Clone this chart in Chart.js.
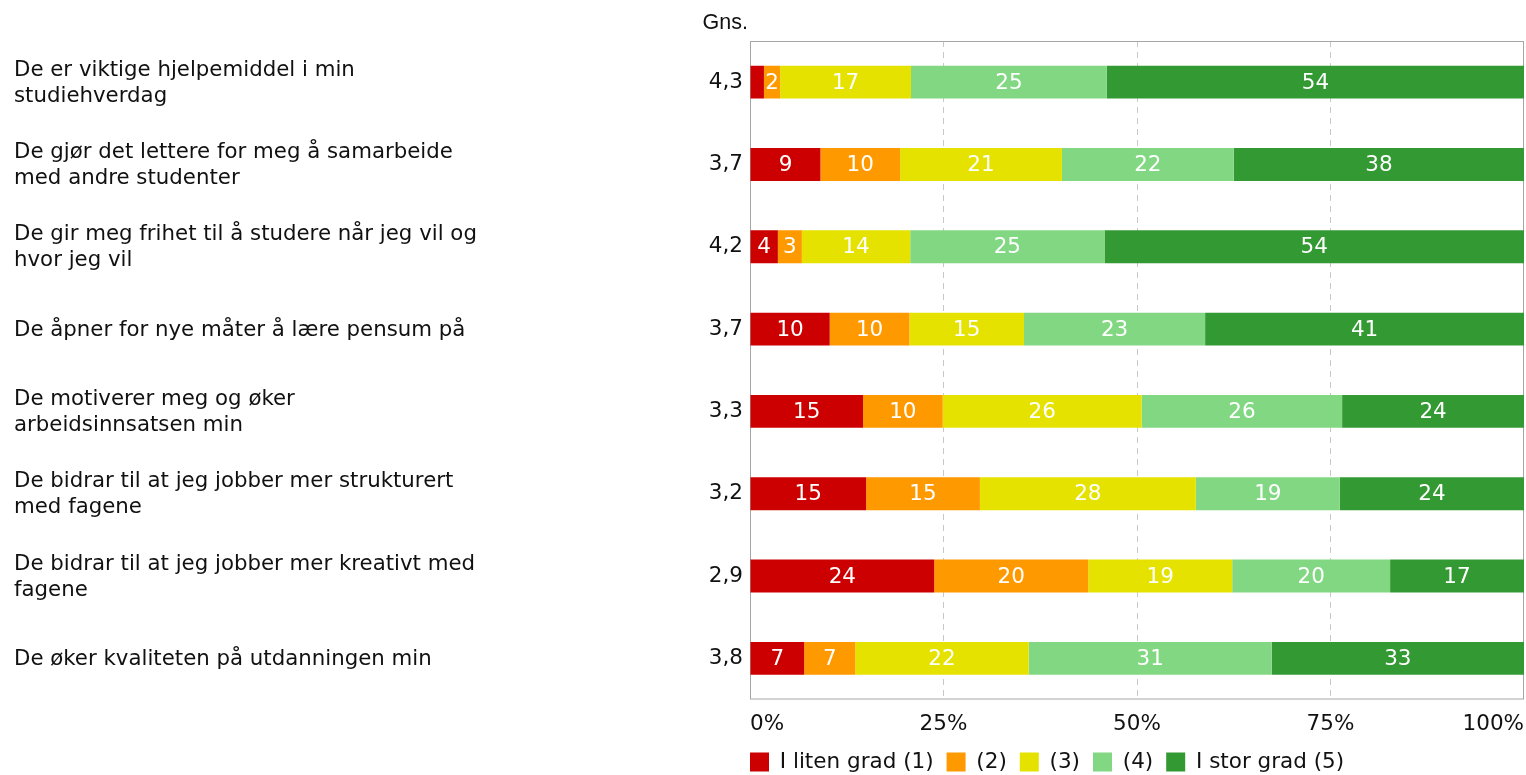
<!DOCTYPE html>
<html>
<head>
<meta charset="utf-8">
<script src="https://cdn.jsdelivr.net/npm/chart.js@4.4.0/dist/chart.umd.min.js"></script>
<style>
    html, body { margin: 0; padding: 0; background: #fff; }
    #wrap { width: 1526px; height: 775px; position: relative; }
</style>
</head>
<body>
<div id="wrap"><canvas id="myChart"></canvas></div>
<script>
const questions = [
    ['De er viktige hjelpemiddel i min', 'studiehverdag'],
    ['De gjør det lettere for meg å samarbeide', 'med andre studenter'],
    ['De gir meg frihet til å studere når jeg vil og', 'hvor jeg vil'],
    'De åpner for nye måter å lære pensum på',
    ['De motiverer meg og øker', 'arbeidsinnsatsen min'],
    ['De bidrar til at jeg jobber mer strukturert', 'med fagene'],
    ['De bidrar til at jeg jobber mer kreativt med', 'fagene'],
    'De øker kvaliteten på utdanningen min'
];
const averages = ['4,3', '3,7', '4,2', '3,7', '3,3', '3,2', '2,9', '3,8'];
const seriesNames = ['I liten grad (1)', '(2)', '(3)', '(4)', 'I stor grad (5)'];
const grad1 = [1.8, 9.1, 3.6, 10.3, 14.6, 15.0, 23.8, 7.0];
const grad2 = [2.1, 10.3, 3.1, 10.3, 10.3, 14.7, 19.9, 6.6];
const grad3 = [16.9, 20.9, 14.0, 14.8, 25.7, 27.9, 18.6, 22.4];
const grad4 = [25.3, 22.2, 25.1, 23.4, 25.9, 18.6, 20.4, 31.4];
const grad5 = [53.9, 37.5, 54.2, 41.2, 23.5, 23.8, 17.3, 32.6];
const xTicks = [0, 25, 50, 75, 100];

const colours = ['#cc0000', '#ff9900', '#e6e200', '#82d882', '#339933'];
const font = "'DejaVu Sans', Verdana, sans-serif";
const textColour = '#111';

// white numbers inside the bars
const barLabels = {
    id: 'barLabels',
    afterDatasetsDraw(chart) {
        const ctx = chart.ctx;
        ctx.save();
        ctx.font = '21.5px ' + font;
        ctx.fillStyle = '#fff';
        ctx.textAlign = 'center';
        ctx.textBaseline = 'middle';
        chart.data.datasets.forEach((ds, i) => {
            chart.getDatasetMeta(i).data.forEach((bar, j) => {
                const v = ds.data[j];
                if (v < 2) return;
                ctx.fillText(Math.round(v), (bar.x + bar.base) / 2, bar.y + 1);
            });
        });
        ctx.restore();
    }
};

// box round the plot, "Gns." header, legend moved under the plot
const frame = {
    id: 'frame',
    afterLayout(chart) {
        const lg = chart.legend;
        const pad = lg.options.labels.padding;
        const h = lg.legendHitBoxes.length ? lg.legendHitBoxes[0].height : 20;
        lg.left = chart.chartArea.left - pad;
        lg.top = 762 - pad - h / 2;
        lg.bottom = lg.top + lg.height;
    },
    beforeDatasetsDraw(chart) {
        const {ctx, chartArea: a} = chart;
        ctx.save();
        ctx.strokeStyle = '#a6a6a6';
        ctx.lineWidth = 1;
        ctx.strokeRect(a.left + 0.5, a.top + 0.5, a.right - a.left - 1, a.bottom - a.top - 1);
        ctx.restore();
    },
    afterDraw(chart) {
        const ctx = chart.ctx;
        ctx.save();
        ctx.font = "21.5px 'Liberation Sans', Arial, sans-serif";
        ctx.fillStyle = textColour;
        ctx.textAlign = 'right';
        ctx.textBaseline = 'alphabetic';
        ctx.fillText('Gns.', chart.chartArea.left - 2, 29);
        ctx.restore();
    }
};

const series = [grad1, grad2, grad3, grad4, grad5];

new Chart(document.getElementById('myChart'), {
    type: 'bar',
    data: {
        labels: questions,
        datasets: series.map((d, i) => ({
            label: seriesNames[i],
            data: d,
            backgroundColor: colours[i],
            borderWidth: 0,
            barPercentage: 0.4,
            categoryPercentage: 1
        }))
    },
    options: {
        indexAxis: 'y',
        responsive: true,
        maintainAspectRatio: false,
        animation: false,
        layout: { padding: { top: 41, right: 2, left: 14, bottom: 0 } },
        scales: {
            x: {
                stacked: true,
                min: 0,
                max: 100,
                afterBuildTicks: s => { s.ticks = xTicks.map(v => ({ value: v })); },
                afterFit: s => { s.paddingLeft = 0; s.paddingRight = 0; s.height = 31; },
                ticks: {
                    align: 'inner',
                    padding: 12,
                    color: textColour,
                    font: { family: font, size: 21.5 },
                    callback: v => v + '%'
                },
                grid: {
                    drawTicks: false,
                    color: c => (c.tick && (c.tick.value === 0 || c.tick.value === 100)) ? 'rgba(0,0,0,0)' : '#c8c8c8'
                },
                border: { display: false, dash: [6, 5] }
            },
            y: {
                stacked: true,
                position: 'left',
                weight: 1,
                afterFit: s => { s.width = 686; },
                grid: { display: false, drawTicks: false },
                border: { display: false },
                ticks: {
                    crossAlign: 'far',
                    labelOffset: 1,
                    color: textColour,
                    font: { family: font, size: 21.3, lineHeight: 1.22 }
                }
            },
            y2: {
                type: 'category',
                labels: averages,
                position: 'left',
                weight: 0,
                offset: true,
                afterFit: s => { s.width = 50; },
                grid: { display: false, drawTicks: false },
                border: { display: false },
                ticks: {
                    padding: 7,
                    color: textColour,
                    font: { family: font, size: 21.5 }
                }
            }
        },
        plugins: {
            tooltip: { enabled: false },
            legend: {
                position: 'bottom',
                align: 'start',
                labels: {
                    boxWidth: 19,
                    boxHeight: 19,
                    padding: 13,
                    color: textColour,
                    font: { family: font, size: 21.5 }
                }
            }
        }
    },
    plugins: [barLabels, frame]
});
</script>
</body>
</html>
